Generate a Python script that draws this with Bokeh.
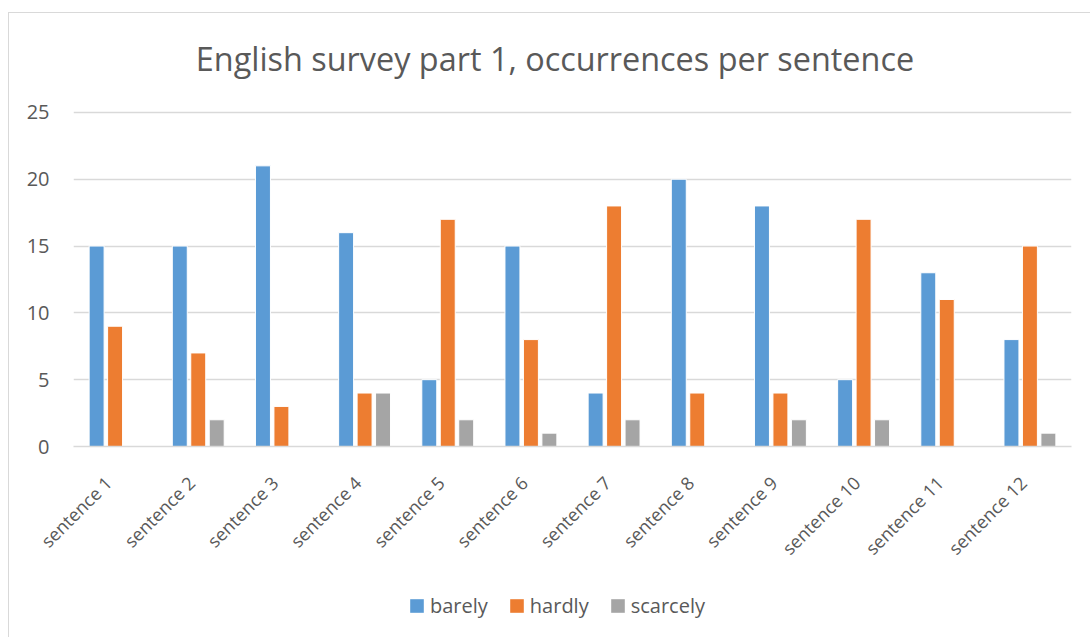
from bokeh.plotting import figure
from bokeh.models import Range1d, FixedTicker, Legend, LegendItem, ColumnDataSource, Label
from bokeh.layouts import column
from bokeh.embed import file_html
from bokeh.resources import INLINE

categories = ["sentence 1", "sentence 2", "sentence 3", "sentence 4", "sentence 5", "sentence 6",
              "sentence 7", "sentence 8", "sentence 9", "sentence 10", "sentence 11", "sentence 12"]
barely = [15, 15, 21, 16, 5, 15, 4, 20, 18, 5, 13, 8]
hardly = [9, 7, 3, 4, 17, 8, 18, 4, 4, 17, 11, 15]
scarcely = [0, 2, 0, 4, 2, 1, 2, 0, 2, 2, 0, 1]
series_names = ["barely", "hardly", "scarcely"]
series_colors = ["#5B9BD5", "#ED7D31", "#A5A5A5"]
y_ticks = [0, 5, 10, 15, 20, 25]
chart_title = "English survey part 1, occurrences per sentence"

FONT = "Open Sans"
TXT = "#595959"
GRID = "#D9D9D9"

# the frame runs up to the top of the chart box so the title can sit inside it
p = figure(width=1082, height=575, output_backend="svg", toolbar_location=None,
           x_range=Range1d(0, len(categories)), y_range=Range1d(0, 32.4),
           min_border_left=64, min_border_right=20, min_border_top=0, min_border_bottom=142)
p.outline_line_color = None
p.background_fill_color = "white"
p.border_fill_color = "white"

centers = [i + 0.5 for i in range(len(categories))]
offsets = [-0.222, 0.0, 0.222]
for vals, off, col in zip([barely, hardly, scarcely], offsets, series_colors):
    src = ColumnDataSource(dict(x=[c + off for c in centers], top=vals))
    p.vbar(x="x", top="top", bottom=0, width=0.18, source=src,
           fill_color=col, line_color="white", line_width=1)

p.add_layout(Label(x=5.789, y=29.1, text=chart_title, text_font=FONT,
                   text_font_size="32.4px", text_color=TXT,
                   text_align="center", text_baseline="alphabetic"))

# axes (label anchors nudged slightly left so the rotated text ends under the group centre)
label_pos = [c - 0.08 for c in centers]
p.xaxis.ticker = FixedTicker(ticks=label_pos)
p.xaxis.major_label_overrides = {c: n for c, n in zip(label_pos, categories)}
p.xaxis.major_label_orientation = 0.785398
p.xaxis.major_tick_line_color = None
p.xaxis.minor_tick_line_color = None
p.xaxis.axis_line_color = GRID
p.xaxis.axis_line_width = 1.5
p.xaxis.major_label_text_font = FONT
p.xaxis.major_label_text_font_size = "18px"
p.xaxis.major_label_text_color = TXT
p.xaxis.major_label_standoff = 27

p.yaxis.ticker = FixedTicker(ticks=y_ticks)
p.yaxis.axis_line_color = None
p.yaxis.major_tick_line_color = None
p.yaxis.minor_tick_line_color = None
p.yaxis.major_label_text_font = FONT
p.yaxis.major_label_text_font_size = "20px"
p.yaxis.major_label_text_color = TXT
p.yaxis.major_label_standoff = 18

p.xgrid.grid_line_color = None
p.ygrid.grid_line_color = GRID
p.ygrid.grid_line_width = 1.5

# legend strip below the chart (zero-area dummy renderers only carry the legend colours)
p2 = figure(width=1082, height=50, output_backend="svg", toolbar_location=None,
            x_range=Range1d(0, 1), y_range=Range1d(0, 1),
            x_axis_location=None, y_axis_location=None, min_border=0)
p2.outline_line_color = None
p2.grid.visible = False
p2.border_fill_color = "white"
items = []
for name, col in zip(series_names, series_colors):
    r = p2.vbar(x=[0.5], top=[0.5], bottom=0.5, width=0, fill_color=col, line_color=None)
    items.append(LegendItem(label=name, renderers=[r]))
legend = Legend(items=items, orientation="horizontal", location=(335, 19),
                label_text_font=FONT, label_text_font_size="20px", label_text_color=TXT,
                glyph_width=17, glyph_height=17, spacing=20, label_standoff=5,
                border_line_color=None, background_fill_alpha=0, padding=0, margin=0)
p2.add_layout(legend)

layout = column(p, p2, spacing=0,
                styles={"border": "1px solid #D9D9D9", "margin-left": "8px", "margin-top": "12px"})

open("out.html", "w").write(file_html(layout, INLINE))
